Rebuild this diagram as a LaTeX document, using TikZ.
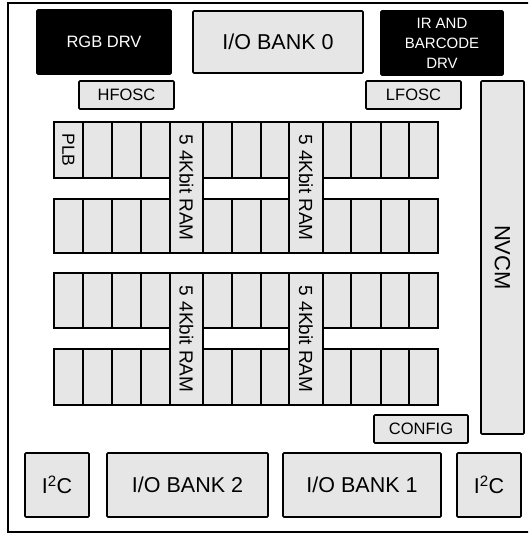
\documentclass[tikz,border=0pt]{standalone}
\usepackage{fontspec}
\setmainfont{Liberation Sans}
\definecolor{boxgray}{RGB}{230,230,230}
\begin{document}
\begin{tikzpicture}[x=1pt,y=-1pt,
  box/.style={draw=black, line width=1.7pt, fill=boxgray, inner sep=0pt, outer sep=0pt, rounded corners=1pt, align=center},
  dark/.style={box, fill=black, text=white},
  cell/.style={draw=black, line width=1.7pt, fill=boxgray, inner sep=0pt, outer sep=0pt},
  big/.style={font=\fontsize{21.5}{24}\selectfont},
  mid/.style={font=\fontsize{16.5}{19}\selectfont},
  ramlbl/.style={font=\fontsize{19}{21}\selectfont},
  frameline/.style={draw=black, line width=1.4pt}]
\useasboundingbox (0,0) rectangle (528,533);
\clip (0,0) rectangle (528,533);
% outer frame
\draw[frameline] (540,3) -- (8,3) -- (8,532) -- (540,532);
% top row
\node[dark, mid, minimum width=134pt, minimum height=64pt] (rgb) at (104,42) {RGB DRV};
\node[box, big, minimum width=170pt, minimum height=62pt] (io0) at (278,42) {I/O BANK 0};
\node[dark, font=\fontsize{15}{20}\selectfont, minimum width=122pt, minimum height=64pt] (ir) at (442,43) {IR AND\\BARCODE\\DRV};
\node[box, mid, minimum width=95pt, minimum height=28pt] (hfosc) at (126.5,95) {HFOSC};
\node[box, mid, minimum width=95pt, minimum height=28pt] (lfosc) at (413.5,95) {LFOSC};
\node[box, font=\fontsize{22}{24}\selectfont, rotate=-90, minimum width=353pt, minimum height=43pt] (nvcm) at (502.5,257.5) {NVCM};
% logic grid
\foreach \l/\r [count=\c] in {54/83,83/112,112/141,141/170,203/232,232/261,261/289,323/351,351/381,381/409,409/438}
  \foreach \t/\b [count=\rr] in {122/178,199/253,273/328,349/405}
    \node[cell, minimum width={(\r-\l)*1pt}, minimum height={(\b-\t)*1pt}] (c\rr-\c) at ({(\l+\r)/2},{(\t+\b)/2}) {};
\node[font=\fontsize{17.5}{19}\selectfont, rotate=-90, inner sep=0pt] (plb) at (c1-1.center) {PLB};
% RAM columns
\node[cell, ramlbl, rotate=-90, minimum width=131pt, minimum height=33pt] (ram1) at (186.5,187.5) {5 4Kbit RAM};
\node[cell, ramlbl, rotate=-90, minimum width=131pt, minimum height=34pt] (ram2) at (306,187.5) {5 4Kbit RAM};
\node[cell, ramlbl, rotate=-90, minimum width=132pt, minimum height=33pt] (ram3) at (186.5,339) {5 4Kbit RAM};
\node[cell, ramlbl, rotate=-90, minimum width=132pt, minimum height=34pt] (ram4) at (306,339) {5 4Kbit RAM};
% config
\node[box, font=\fontsize{16.5}{18}\selectfont, minimum width=94pt, minimum height=28pt] (config) at (421,429) {CONFIG};
% bottom row
\node[box, big, minimum width=64pt, minimum height=64pt] (i2cl) at (57,485) {I\textsuperscript{2}C};
\node[box, big, minimum width=161pt, minimum height=64pt] (io2) at (187.5,485) {I/O BANK 2};
\node[box, big, minimum width=158pt, minimum height=64pt] (io1) at (362,485) {I/O BANK 1};
\node[box, big, minimum width=64pt, minimum height=64pt] (i2cr) at (489,485) {I\textsuperscript{2}C};
\end{tikzpicture}
\end{document}
